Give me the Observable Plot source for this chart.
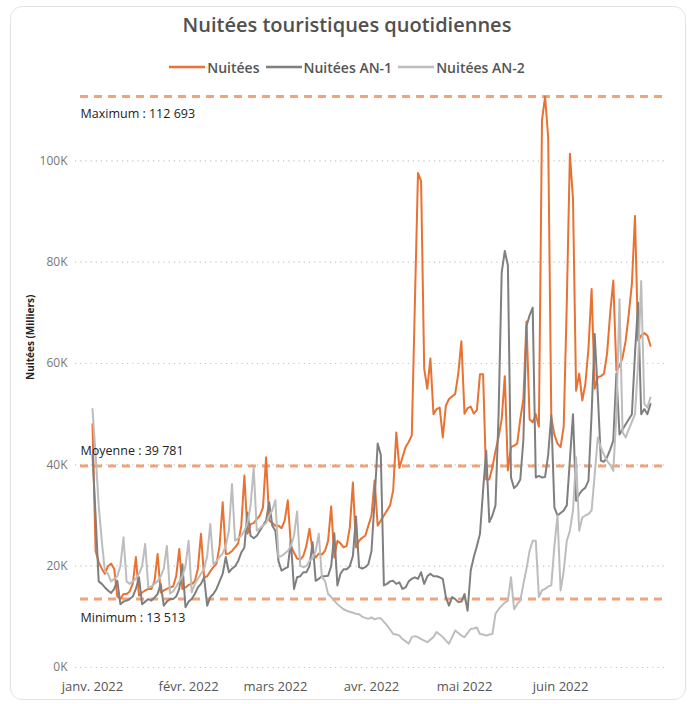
<!DOCTYPE html>
<html><head><meta charset="utf-8">
<script src="https://cdn.jsdelivr.net/npm/d3@7"></script>
<script src="https://cdn.jsdelivr.net/npm/@observablehq/plot@0.6"></script>
<style>
html,body{margin:0;padding:0;background:#fff;}
body{width:694px;height:704px;position:relative;overflow:hidden;font-family:"Open Sans","Noto Sans",sans-serif;}
#card{position:absolute;left:10px;top:6px;width:676px;height:694px;border:1px solid #e3e3e3;border-radius:12px;box-sizing:border-box;}
#title{position:absolute;left:0;width:694px;top:10px;text-align:center;font-size:20px;font-weight:600;color:#505050;line-height:30px;}
#legend{position:absolute;left:0;width:694px;top:57px;height:20px;display:flex;justify-content:center;align-items:center;font-size:14px;font-weight:600;color:#555;}
#legend .item{display:flex;align-items:center;margin:0 3px;}
#legend svg{margin-right:2px;}
#chart{position:absolute;left:0;top:80px;}
#chart [aria-label^="y-axis"] text{font-size:12px;fill:#777;}
#chart [aria-label^="x-axis"] text{font-size:13px;fill:#555;}
</style></head><body>
<div id="card"></div>
<div id="title">Nuitées touristiques quotidiennes</div>
<div id="legend"></div>
<div id="chart"></div>
<script>
// ---- data (thousands of nights, one value per day from 1 Jan 2022) ----
const seriesNames = ["Nuitées", "Nuitées AN-1", "Nuitées AN-2"];
const seriesColors = ["#E97132", "#7F7F7F", "#BDBDBD"];

const nuitees = [
  48,23,20.8,19.5,18.5,20,20.5,19.5,14,13.513,14.5,14.5,15,16.5,21.8,14.2,14.8,15.2,15.5,15.5,17,22.4,14.8,15.2,15.5,15.8,16,18,23.4,15.5,15.8,
  16.3,16.5,17,19.5,26.4,17.8,18,19,19.8,20.5,24,32.6,22.4,22.5,23,23.7,24.5,28,37.9,26.4,28.3,28.5,29.3,30,31.6,41.5,29,28.5,
  28,28,27.5,29,33,24,22.7,21.5,21.3,22,24,27.4,23,21.7,22.5,22.3,23,25,31.8,21.7,25,24.5,23.7,24,27.6,36.5,23.7,25,25.6,26,28,
  30,36.9,28,29,30,31,32,35,46.4,39.4,41.5,43.5,44.5,45.8,72,97.6,96,59,55,61,50,51,51.3,45.4,51.7,53,53.5,54,58,64.4,
  50.1,51.2,51.5,50.1,50.8,57.9,57.9,37.1,37.1,39.5,42.7,45.5,49,57.5,38.9,43.5,43.8,44.2,49,53,68.3,49,48.4,50,47.5,108,112.693,104.5,49.4,45.9,44.2,
  43.5,47.5,72,101.4,92.5,54.6,58,52.7,56,63,74.7,55,57.3,57.5,58,62,70,76.4,58.6,59.5,61.2,64.5,69.8,75.7,89.1,64.5,65.5,66,65.5,63.5
];
const nuiteesAN1 = [
  42,30,17,16.5,15.8,15.2,14.7,15.5,17.1,12.5,13,13.2,13.5,14,15.5,17.8,12.5,13,13.5,13.2,13.8,14.5,16.5,12.2,13,13.5,13.5,14,15.5,20.4,11.9,
  13,13.5,14.5,15.8,16.5,17.8,12.2,13.9,14.5,15.5,17,18.5,21.8,18.8,19.5,20,21,22.7,23.7,30.6,26,25.5,26,27,28,29,32.6,28,
  27,21,19.1,19.5,19.8,25,15.5,17.8,18,18.8,18.8,20,24.7,17.1,17.5,18,18,18.1,20,26.5,16.2,18.5,19.4,19.4,20,22,29.8,19.8,19.5,19.8,20.4,
  23,33,44.2,42,16.2,16.5,17,17.1,16.5,16.8,15.5,15.8,17,17.5,17.8,17.5,18.8,16.5,18,18.5,18,18,17.8,17.5,13.9,12.2,13.9,13.5,12.9,13,
  14.5,11.2,19.1,21.8,24,26.4,35,42.8,28.7,30,32,50,78,82.2,79.4,37.5,35.4,36,37.1,45,67.4,69.5,71,37.5,37.8,37.5,37.6,42,49.8,31.6,30,
  30.5,31,32,41,50,32.9,34.2,35,35.5,36.9,50,65.8,54,40.8,40.6,41.5,43,44.8,58,46,47,48,49,50,62,72,50,51,50,52
];
const nuiteesAN2 = [
  51,42,32,25,19,18.5,17,17.5,18,20,25.7,17,16.5,17,17.5,18.5,20,24.4,15.8,16,16.5,17,18,19.5,24,14.6,15,16,17,18,20,
  25,14.8,16.5,17.5,18.5,19.5,22,28.3,20.4,21,21.8,22.5,24,27,36.2,25,25.5,26,27,28.5,32,39.5,27,27.5,28,28.5,30,31,
  33,21.8,22,22.5,23,24,26,30.8,20.1,19.8,20,21,21.5,23,26.4,17.8,17.1,14.5,13.9,13.2,12.5,12,11.5,11.2,11,10.8,10.6,10.5,10,9.8,9.6,
  9.9,9.5,9.7,9.7,9,8.3,7.5,6.6,6.5,6.3,5.6,5.2,4.7,6,6.2,6,5.6,5.3,5,5.5,6,7,6.5,6,5.3,4.7,6,7.3,6.8,6.3,
  6,6.8,7.6,7.7,7.9,6.6,6.5,6.3,6.5,6.6,10.6,11.5,12.2,12.8,13.2,17.8,11.5,12.5,13.2,16.5,19.5,23,25,25,13.9,15.2,15.5,16,16.2,24,30,
  15.2,19,25,27,31,41.5,27,29.6,30,30.3,31,38,45.4,43.4,42,40.8,40,38.8,50,72.7,46.4,45.4,47,48.5,50,60,76.3,52,51.3,53.3
];

const startDate = Date.UTC(2022, 0, 1);
const DAY = 864e5;
const monthStarts = [Date.UTC(2022,0,1), Date.UTC(2022,1,1), Date.UTC(2022,2,1), Date.UTC(2022,3,1), Date.UTC(2022,4,1), Date.UTC(2022,5,1)];
const monthLabels = ["janv. 2022", "févr. 2022", "mars 2022", "avr. 2022", "mai 2022", "juin 2022"];
const yTicks = [0, 20, 40, 60, 80, 100];
const statValues = [112693, 39781, 13513];
const statNames = ["Maximum", "Moyenne", "Minimum"];
const yAxisTitle = "Nuitées (Milliers)";

// ---- build ----
const frFmt = d3.formatLocale({decimal: ",", thousands: " ", grouping: [3], currency: ["", " €"]}).format(",");
const valuesBySeries = [nuitees, nuiteesAN1, nuiteesAN2];
const rows = valuesBySeries.flatMap((vals, s) =>
  vals.map((v, i) => ({date: new Date(startDate + i * DAY), value: v, serie: seriesNames[s]})));
const stats = statValues.map((v, i) => ({v: v / 1000, label: statNames[i] + " : " + frFmt(v)}));
const labelByTime = new Map(monthStarts.map((t, i) => [t, monthLabels[i]]));

// legend
const legend = document.getElementById("legend");
seriesNames.forEach((n, i) => {
  const it = document.createElement("div");
  it.className = "item";
  it.innerHTML = `<svg width="36" height="6"><line x1="0" x2="36" y1="3" y2="3" stroke="${seriesColors[i]}" stroke-width="2.5"/></svg><span>${n}</span>`;
  legend.appendChild(it);
});

const chart = Plot.plot({
  width: 694,
  height: 624,
  marginLeft: 75,
  marginRight: 29,
  marginTop: 0,
  marginBottom: 37,
  style: {fontFamily: "'Open Sans','Noto Sans',sans-serif", fontSize: "12px", color: "#666", background: "transparent"},
  x: {type: "utc", domain: [new Date(startDate - 5.48 * DAY), new Date(startDate + 184.84 * DAY)],
      ticks: monthStarts.map(t => new Date(t)), tickFormat: d => labelByTime.get(+d), tickSize: 0, tickPadding: 14, label: null},
  y: {domain: [0, 115.85], ticks: yTicks, tickFormat: d => d + "K", tickSize: 0, tickPadding: 8, label: null},
  color: {domain: seriesNames, range: seriesColors},
  marks: [
    Plot.ruleY(yTicks, {stroke: "#c4c4c4", strokeWidth: 1.2, strokeDasharray: "1.2,4"}),
    Plot.ruleY(stats, {y: "v", stroke: "#E97132", strokeOpacity: 0.65, strokeWidth: 3, strokeDasharray: "8,6", insetLeft: 5}),
    Plot.line(rows, {x: "date", y: "value", z: "serie", stroke: "serie", strokeWidth: 2, strokeLinejoin: "round"}),
    Plot.text([stats[0]], {y: "v", text: "label", frameAnchor: "left", dx: 5, dy: 18, textAnchor: "start", fontSize: 12.5, fill: "#222"}),
    Plot.text([stats[1]], {y: "v", text: "label", frameAnchor: "left", dx: 5, dy: -15, textAnchor: "start", fontSize: 12.5, fill: "#222"}),
    Plot.text([stats[2]], {y: "v", text: "label", frameAnchor: "left", dx: 5, dy: 19, textAnchor: "start", fontSize: 12.5, fill: "#222"}),
    Plot.text([yAxisTitle], {text: d => d, frameAnchor: "left", dx: -45, dy: 6, rotate: -90, fontSize: 10, fontWeight: 700, fill: "#222"})
  ]
});
document.getElementById("chart").appendChild(chart);
</script>
</body></html>
